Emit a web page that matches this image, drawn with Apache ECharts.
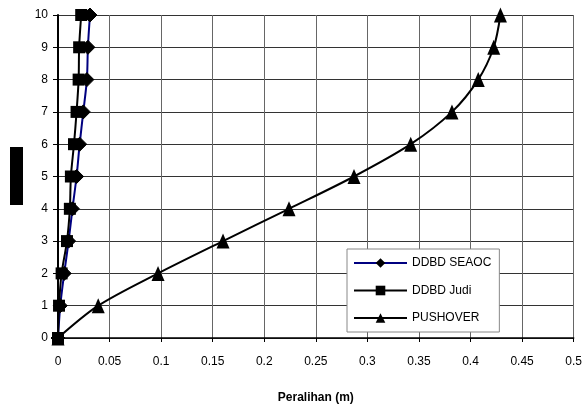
<!DOCTYPE html>
<html>
<head>
<meta charset="utf-8">
<script src="https://cdn.jsdelivr.net/npm/echarts@6/dist/echarts.min.js"></script>
<style>html,body{margin:0;padding:0;background:#fff}#c{width:585px;height:409px}</style>
</head>
<body>
<div id="c"></div>
<script>
// Floor levels (y axis)
var levels = [0, 1, 2, 3, 4, 5, 6, 7, 8, 9, 10];
// Displacements (m) per floor
var seaoc = [0, 0.0022, 0.006, 0.0103, 0.014, 0.018, 0.021, 0.0245, 0.028, 0.029, 0.031];
var judi = [0, 0.001, 0.0035, 0.0087, 0.0115, 0.0125, 0.0155, 0.018, 0.02, 0.0205, 0.0225];
var pushover = [0, 0.039, 0.097, 0.16, 0.224, 0.287, 0.342, 0.382, 0.4075, 0.4225, 0.429];
var seriesNames = ['DDBD SEAOC', 'DDBD Judi', 'PUSHOVER'];
var xTickLabels = ['0', '0.05', '0.1', '0.15', '0.2', '0.25', '0.3', '0.35', '0.4', '0.45', '0.5'];
var yTickLabels = ['0', '1', '2', '3', '4', '5', '6', '7', '8', '9', '10'];
var xTitle = 'Peralihan (m)';

function pairs(xs) { return xs.map(function (v, i) { return [v, levels[i]]; }); }

var chart = echarts.init(document.getElementById('c'), null, { renderer: 'canvas' });
var font = 'Liberation Sans, Arial, sans-serif';
chart.setOption({
  animation: false,
  backgroundColor: '#fff',
  textStyle: { fontFamily: font },
  grid: { left: 58, right: 10, top: 15, bottom: 66 },
  xAxis: {
    type: 'value', min: 0, max: 0.5, interval: 0.05,
    name: xTitle, nameLocation: 'middle', nameGap: 54,
    nameTextStyle: { fontSize: 12, fontWeight: 'bold', color: '#000', fontFamily: font },
    axisLine: { show: true, lineStyle: { color: '#000', width: 1.5 } },
    axisTick: { show: true, length: 4, lineStyle: { color: '#000' } },
    axisLabel: { margin: 18, fontSize: 12, color: '#000', fontFamily: font,
      formatter: function (v) { return xTickLabels[Math.round(v / 0.05)]; } },
    splitLine: { show: true, lineStyle: { color: '#666', width: 1 } }
  },
  yAxis: {
    type: 'value', min: 0, max: 10, interval: 1,
    axisLine: { show: true, lineStyle: { color: '#000', width: 2 } },
    axisTick: { show: true, length: 5, lineStyle: { color: '#000' } },
    axisLabel: { margin: 10, fontSize: 12, color: '#000', fontFamily: font,
      formatter: function (v) { return yTickLabels[Math.round(v)]; } },
    splitLine: { show: true, lineStyle: { color: '#333', width: 1 } }
  },
  legend: {
    orient: 'vertical', left: 347, top: 249,
    padding: [8, 8, 8, 6],
    itemWidth: 53, itemHeight: 12, itemGap: 15.5,
    backgroundColor: '#fff', borderColor: '#888', borderWidth: 1,
    textStyle: { fontSize: 12, color: '#000', fontFamily: font },
    data: seriesNames
  },
  graphic: [{
    type: 'rect', shape: { x: 10, y: 147, width: 13, height: 58 },
    style: { fill: '#000' }
  }],
  series: [
    {
      name: seriesNames[0], type: 'line', data: pairs(seaoc), smooth: 0.3,
      symbol: 'diamond', symbolSize: 14,
      lineStyle: { color: '#000080', width: 2 },
      itemStyle: { color: '#000', borderColor: '#000' }, z: 2
    },
    {
      name: seriesNames[1], type: 'line', data: pairs(judi), smooth: 0.3,
      symbol: 'rect', symbolSize: 12,
      lineStyle: { color: '#000', width: 2 },
      itemStyle: { color: '#000' }, z: 3
    },
    {
      name: seriesNames[2], type: 'line', data: pairs(pushover), smooth: 0.3,
      symbol: 'triangle', symbolSize: [13, 15],
      lineStyle: { color: '#000', width: 2 },
      itemStyle: { color: '#000' }, z: 4
    }
  ]
});
</script>
</body>
</html>
